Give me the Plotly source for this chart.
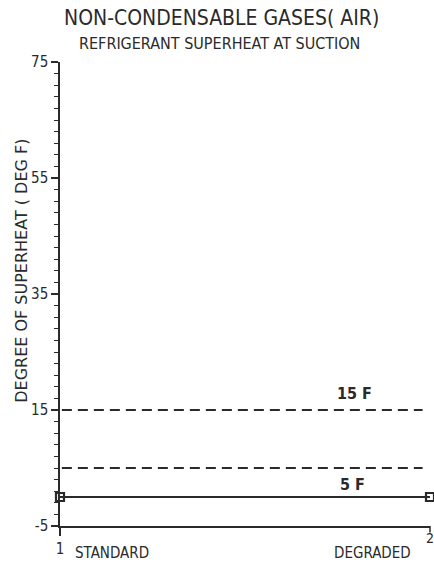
import plotly.graph_objects as go

# Data
conditions = [1, 2]
condition_ticks = ["1", "2"]
condition_names = ["STANDARD", "DEGRADED"]
superheat = [0, 0]
limit_values = [15, 5]
limit_labels = ["15 F", "5 F"]
y_ticks = [-5, 15, 35, 55, 75]
y_tick_text = ["-5", "15", "35", "55", "75"]

FONT = "DejaVu Sans Condensed, DejaVu Sans, sans-serif"
WIDE = "DejaVu Sans, sans-serif"
INK = "#2a2a2a"

fig = go.Figure()

# Limit reference lines
for v in limit_values:
    fig.add_trace(go.Scatter(
        x=[1.005, 1.98], y=[v, v], mode="lines",
        line=dict(color=INK, width=2, dash="10px,6px"),
        hoverinfo="skip", showlegend=False, cliponaxis=False,
    ))

# Measured superheat
fig.add_trace(go.Scatter(
    x=conditions, y=superheat, mode="lines+markers",
    line=dict(color=INK, width=2.2),
    marker=dict(symbol="square-open", size=8, color=INK, line=dict(width=2.2)),
    showlegend=False, cliponaxis=False,
))

# Limit labels
fig.add_annotation(x=1.795, y=limit_values[0], text="<b>" + limit_labels[0] + "</b>",
                   showarrow=False, yanchor="bottom", yshift=5,
                   font=dict(family=FONT, size=16, color=INK))
fig.add_annotation(x=1.79, y=limit_values[1], text="<b>" + limit_labels[1] + "</b>",
                   showarrow=False, yanchor="top", yshift=-5,
                   font=dict(family=FONT, size=16, color=INK))

# Right-hand tick label of the x axis
fig.add_annotation(x=conditions[1], y=0, yref="paper", text=condition_ticks[1],
                   showarrow=False, xanchor="left", yanchor="top", xshift=-6, yshift=-2,
                   font=dict(family=FONT, size=14, color=INK))

# Condition names under the axis
fig.add_annotation(x=1.035, y=0, yref="paper", text=condition_names[0], showarrow=False,
                   xanchor="left", yanchor="top", yshift=-16,
                   font=dict(family=FONT, size=15, color=INK))
fig.add_annotation(x=1.953, y=0, yref="paper", text=condition_names[1], showarrow=False,
                   xanchor="right", yanchor="top", yshift=-16,
                   font=dict(family=FONT, size=15, color=INK))

# Titles
fig.add_annotation(xref="paper", yref="paper", x=0.437, y=1.0, yshift=44,
                   text="NON-CONDENSABLE GASES( AIR)", showarrow=False,
                   xanchor="center", yanchor="middle",
                   font=dict(family=FONT, size=21, color=INK))
fig.add_annotation(xref="paper", yref="paper", x=0.432, y=1.0, yshift=19,
                   text="REFRIGERANT SUPERHEAT AT SUCTION", showarrow=False,
                   xanchor="center", yanchor="middle",
                   font=dict(family=FONT, size=16, color=INK))

# Y axis title
fig.add_annotation(xref="paper", yref="paper", x=0, xshift=-38, y=0.55,
                   xanchor="center", yanchor="middle",
                   text="DEGREE OF SUPERHEAT ( DEG F)", textangle=-90, showarrow=False,
                   font=dict(family=WIDE, size=16, color=INK))

fig.update_layout(
    width=434, height=563,
    margin=dict(l=60, r=4, t=62, b=37),
    paper_bgcolor="white", plot_bgcolor="white",
    font=dict(family=FONT, color=INK),
)
fig.update_xaxes(
    range=[1, 2], tickvals=conditions[:1], ticktext=condition_ticks[:1],
    showgrid=False, zeroline=False, showline=True, linecolor=INK, linewidth=1.5,
    ticks="outside", ticklen=8, tickwidth=1.5, tickcolor=INK,
    tickfont=dict(family=FONT, size=15, color=INK), automargin=False,
)
fig.update_yaxes(
    range=[-5, 75], tickvals=y_ticks, ticktext=y_tick_text,
    showgrid=False, zeroline=False, showline=True, linecolor=INK, linewidth=1.5,
    ticks="outside", ticklen=7, tickwidth=1.5, tickcolor=INK,
    minor=dict(tick0=-5, dtick=2, ticks="outside", ticklen=4, tickwidth=1, tickcolor=INK),
    tickfont=dict(family=FONT, size=15, color=INK), automargin=False,
)

# Tick mark at the right end of the x axis
fig.add_annotation(x=2, y=0, yref="paper", ax=0, ay=8, axref="pixel", ayref="pixel",
                   showarrow=True, arrowhead=0, arrowwidth=1.5, arrowcolor=INK, text="")

fig.write_html("out.html")
